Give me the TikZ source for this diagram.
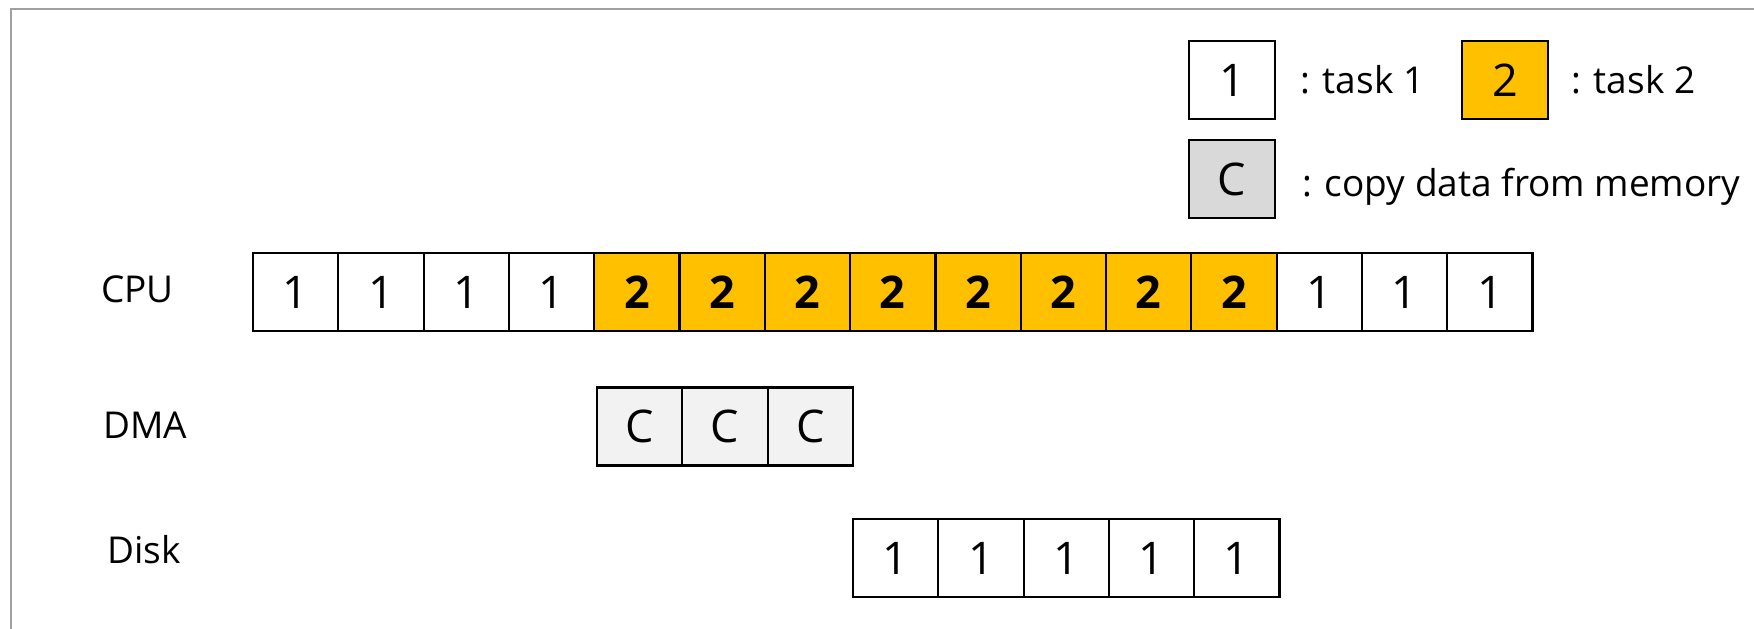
\documentclass[tikz,border=0pt]{standalone}
\usepackage{fontspec}
\setmainfont{Open Sans}
\definecolor{taskorange}{HTML}{FFC000}
\definecolor{copygray}{HTML}{D9D9D9}
\definecolor{dmagray}{HTML}{F2F2F2}
\definecolor{framegray}{HTML}{A0A0A0}
\begin{document}
\begin{tikzpicture}[x=1pt,y=-1pt,
  cell/.style={draw=black,line width=2.2pt,minimum width=85.3pt,minimum height=78pt,inner sep=0pt,anchor=center,font=\fontsize{45}{50}\selectfont},
  tone/.style={cell,fill=white},
  ttwo/.style={cell,fill=taskorange,font=\fontsize{45}{50}\selectfont\bfseries},
  tcopy/.style={cell,fill=dmagray},
  rowlabel/.style={anchor=west,inner sep=0pt,font=\fontsize{37}{42}\selectfont},
  legtext/.style={anchor=west,inner sep=0pt,font=\fontsize{37}{42}\selectfont}]
\useasboundingbox (0,0) rectangle (1754,629);
\fill[white] (0,0) rectangle (1754,629);
\draw[framegray,line width=2pt] (1754,9) -- (11,9) -- (11,629);

% legend
\node[tone] (l1) at (1232,80) {1};
\node[legtext] (l1t) at (1300,80) {: task 1};
\node[cell,fill=taskorange] (l2) at (1505,80) {2};
\node[legtext] (l2t) at (1571,80) {: task 2};
\node[cell,fill=copygray] (lc) at (1232,179) {C};
\node[legtext] (lct) at (1302,187) {: copy data from memory};

% row labels
\node[rowlabel] (cpu) at (101,289) {CPU};
\node[rowlabel] (dma) at (103,425) {DMA};
\node[rowlabel] (disk) at (107,550) {Disk};

% CPU row
\foreach \i in {1,...,4}{\node[tone] (cpu\i) at ({253+85.3*(\i-0.5)},292) {1};}
\foreach \i in {5,...,12}{\node[ttwo] (cpu\i) at ({253+85.3*(\i-0.5)},292) {2};}
\foreach \i in {13,...,15}{\node[tone] (cpu\i) at ({253+85.3*(\i-0.5)},292) {1};}

% DMA row
\foreach \i in {1,...,3}{\node[tcopy] (dma\i) at ({597+85.3*(\i-0.5)},426.5) {C};}

% Disk row
\foreach \i in {1,...,5}{\node[tone] (disk\i) at ({853+85.3*(\i-0.5)},558) {1};}
\end{tikzpicture}
\end{document}
